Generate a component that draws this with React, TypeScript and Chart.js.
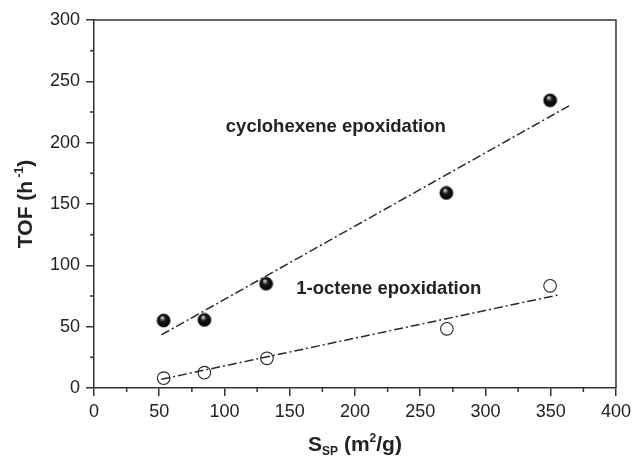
import React, { useEffect, useRef } from "react";
import { Chart, registerables } from "chart.js";

Chart.register(...registerables);

// ---- data ----
const xRange = [0, 400];
const yRange = [0, 300];
const xMajorStep = 50;
const yMajorStep = 50;
const xMinorStep = 25;
const yMinorStep = 25;

const cycloX = [53.4, 84.6, 131.9, 270, 349.5];
const cycloY = [55, 55.5, 85, 159, 234.5];
const octeneX = [53.4, 84.6, 132.5, 270.4, 349.5];
const octeneY = [8, 12.5, 24.2, 48.2, 83.3];

const cycloFitX = [51.6, 364];
const cycloFitY = [43.3, 230];
const octeneFitX = [51.6, 356];
const octeneFitY = [7.1, 75.9];

const annotationTexts = ["cyclohexene epoxidation", "1-octene epoxidation"];
const annotationX = [101, 155];
const annotationY = [213, 80.5];

const FONT = "'Liberation Sans', Arial, Helvetica, sans-serif";
const INK = "#222";

function makeSphere(r: number): HTMLCanvasElement {
  const c = document.createElement("canvas");
  const s = Math.ceil(r * 2 + 2);
  c.width = s;
  c.height = s;
  const ctx = c.getContext("2d")!;
  const cx = s / 2;
  const cy = s / 2;
  const g = ctx.createRadialGradient(cx - r * 0.25, cy - r * 0.5, 0, cx, cy, r);
  g.addColorStop(0, "#ffffff");
  g.addColorStop(0.18, "#9a9a9a");
  g.addColorStop(0.45, "#1a1a1a");
  g.addColorStop(1, "#000000");
  ctx.beginPath();
  ctx.arc(cx, cy, r, 0, Math.PI * 2);
  ctx.fillStyle = g;
  ctx.fill();
  ctx.lineWidth = 0.8;
  ctx.strokeStyle = "#111";
  ctx.stroke();
  return c;
}

const decorPlugin = {
  id: "decor",
  afterDraw(chart: any) {
    const { ctx, chartArea } = chart;
    const xs = chart.scales.x;
    const ys = chart.scales.y;
    ctx.save();
    // frame (top & right)
    ctx.strokeStyle = "#333";
    ctx.lineWidth = 1.5;
    ctx.beginPath();
    ctx.moveTo(chartArea.left, chartArea.top);
    ctx.lineTo(chartArea.right, chartArea.top);
    ctx.lineTo(chartArea.right, chartArea.bottom);
    ctx.stroke();
    // minor ticks
    ctx.beginPath();
    for (let v = xRange[0] + xMinorStep; v < xRange[1]; v += xMajorStep) {
      const px = xs.getPixelForValue(v);
      ctx.moveTo(px, chartArea.bottom);
      ctx.lineTo(px, chartArea.bottom + 4);
    }
    for (let v = yRange[0] + yMinorStep; v < yRange[1]; v += yMajorStep) {
      const py = ys.getPixelForValue(v);
      ctx.moveTo(chartArea.left - 4, py);
      ctx.lineTo(chartArea.left, py);
    }
    ctx.stroke();

    // annotations
    ctx.fillStyle = INK;
    ctx.font = `bold 18.5px ${FONT}`;
    ctx.textAlign = "left";
    ctx.textBaseline = "middle";
    annotationTexts.forEach((t, i) => {
      ctx.fillText(t, xs.getPixelForValue(annotationX[i]), ys.getPixelForValue(annotationY[i]));
    });

    // x axis title: S_SP (m^2/g)
    const big = `bold 21px ${FONT}`;
    const small = `bold 12px ${FONT}`;
    const parts: [string, string, number][] = [
      ["S", big, 0],
      ["SP", small, 4],
      [" (m", big, 0],
      ["2", small, -9],
      ["/g)", big, 0],
    ];
    let total = 0;
    parts.forEach(([t, f]) => {
      ctx.font = f;
      total += ctx.measureText(t).width;
    });
    let x = (chartArea.left + chartArea.right) / 2 - total / 2;
    const baseY = 451;
    ctx.textBaseline = "alphabetic";
    parts.forEach(([t, f, dy]) => {
      ctx.font = f;
      ctx.fillText(t, x, baseY + dy);
      x += ctx.measureText(t).width;
    });

    // y axis title: TOF (h^-1)
    const yparts: [string, string, number][] = [
      ["TOF (h", big, 0],
      [" -1", small, -9],
      [")", big, 0],
    ];
    ctx.save();
    ctx.translate(32, (chartArea.top + chartArea.bottom) / 2);
    ctx.rotate(-Math.PI / 2);
    let ytotal = 0;
    yparts.forEach(([t, f]) => {
      ctx.font = f;
      ytotal += ctx.measureText(t).width;
    });
    let yx = -ytotal / 2;
    yparts.forEach(([t, f, dy]) => {
      ctx.font = f;
      ctx.fillText(t, yx, dy);
      yx += ctx.measureText(t).width;
    });
    ctx.restore();
    ctx.restore();
  },
};

export default function App() {
  const ref = useRef<HTMLCanvasElement | null>(null);
  useEffect(() => {
    if (!ref.current) return;
    const sphere = makeSphere(6.5);
    const toPts = (xs: number[], ys: number[]) => xs.map((x, i) => ({ x, y: ys[i] }));
    const dash = [9, 3, 2, 3];
    const chart = new Chart(ref.current, {
      type: "scatter",
      data: {
        datasets: [
          {
            label: "cyclohexene fit",
            data: toPts(cycloFitX, cycloFitY),
            showLine: true,
            borderColor: "#2a2a2a",
            borderWidth: 1.5,
            borderDash: dash,
            pointRadius: 0,
          },
          {
            label: "1-octene fit",
            data: toPts(octeneFitX, octeneFitY),
            showLine: true,
            borderColor: "#2a2a2a",
            borderWidth: 1.5,
            borderDash: dash,
            pointRadius: 0,
          },
          {
            label: "cyclohexene epoxidation",
            data: toPts(cycloX, cycloY),
            pointStyle: sphere as any,
            pointRadius: 6.5,
          },
          {
            label: "1-octene epoxidation",
            data: toPts(octeneX, octeneY),
            pointStyle: "circle",
            pointRadius: 6.3,
            backgroundColor: "#ffffff",
            borderColor: "#222",
            borderWidth: 1.1,
          },
        ],
      },
      options: {
        animation: false,
        responsive: true,
        maintainAspectRatio: false,
        layout: { padding: { top: 20, right: 16, left: 0, bottom: 0 } },
        plugins: { legend: { display: false }, tooltip: { enabled: false } },
        scales: {
          x: {
            type: "linear",
            min: xRange[0],
            max: xRange[1],
            afterFit: (s: any) => {
              s.height = 68;
            },
            ticks: {
              stepSize: xMajorStep,
              color: INK,
              padding: 5,
              font: { family: FONT, size: 18 },
              maxRotation: 0,
            },
            grid: {
              drawOnChartArea: false,
              drawTicks: true,
              tickLength: 8,
              color: "#333",
              lineWidth: 1.5,
            },
            border: { display: true, color: "#333", width: 1.5 },
          },
          y: {
            type: "linear",
            min: yRange[0],
            max: yRange[1],
            afterFit: (s: any) => {
              s.width = 94;
            },
            ticks: {
              stepSize: yMajorStep,
              color: INK,
              padding: 6,
              font: { family: FONT, size: 18 },
            },
            grid: {
              drawOnChartArea: false,
              drawTicks: true,
              tickLength: 8,
              color: "#333",
              lineWidth: 1.5,
            },
            border: { display: true, color: "#333", width: 1.5 },
          },
        },
      },
      plugins: [decorPlugin],
    });
    return () => chart.destroy();
  }, []);
  return (
    <div style={{ position: "absolute", left: 0, top: 0, width: 636, height: 456, background: "#fff" }}>
      <canvas ref={ref} />
    </div>
  );
}
